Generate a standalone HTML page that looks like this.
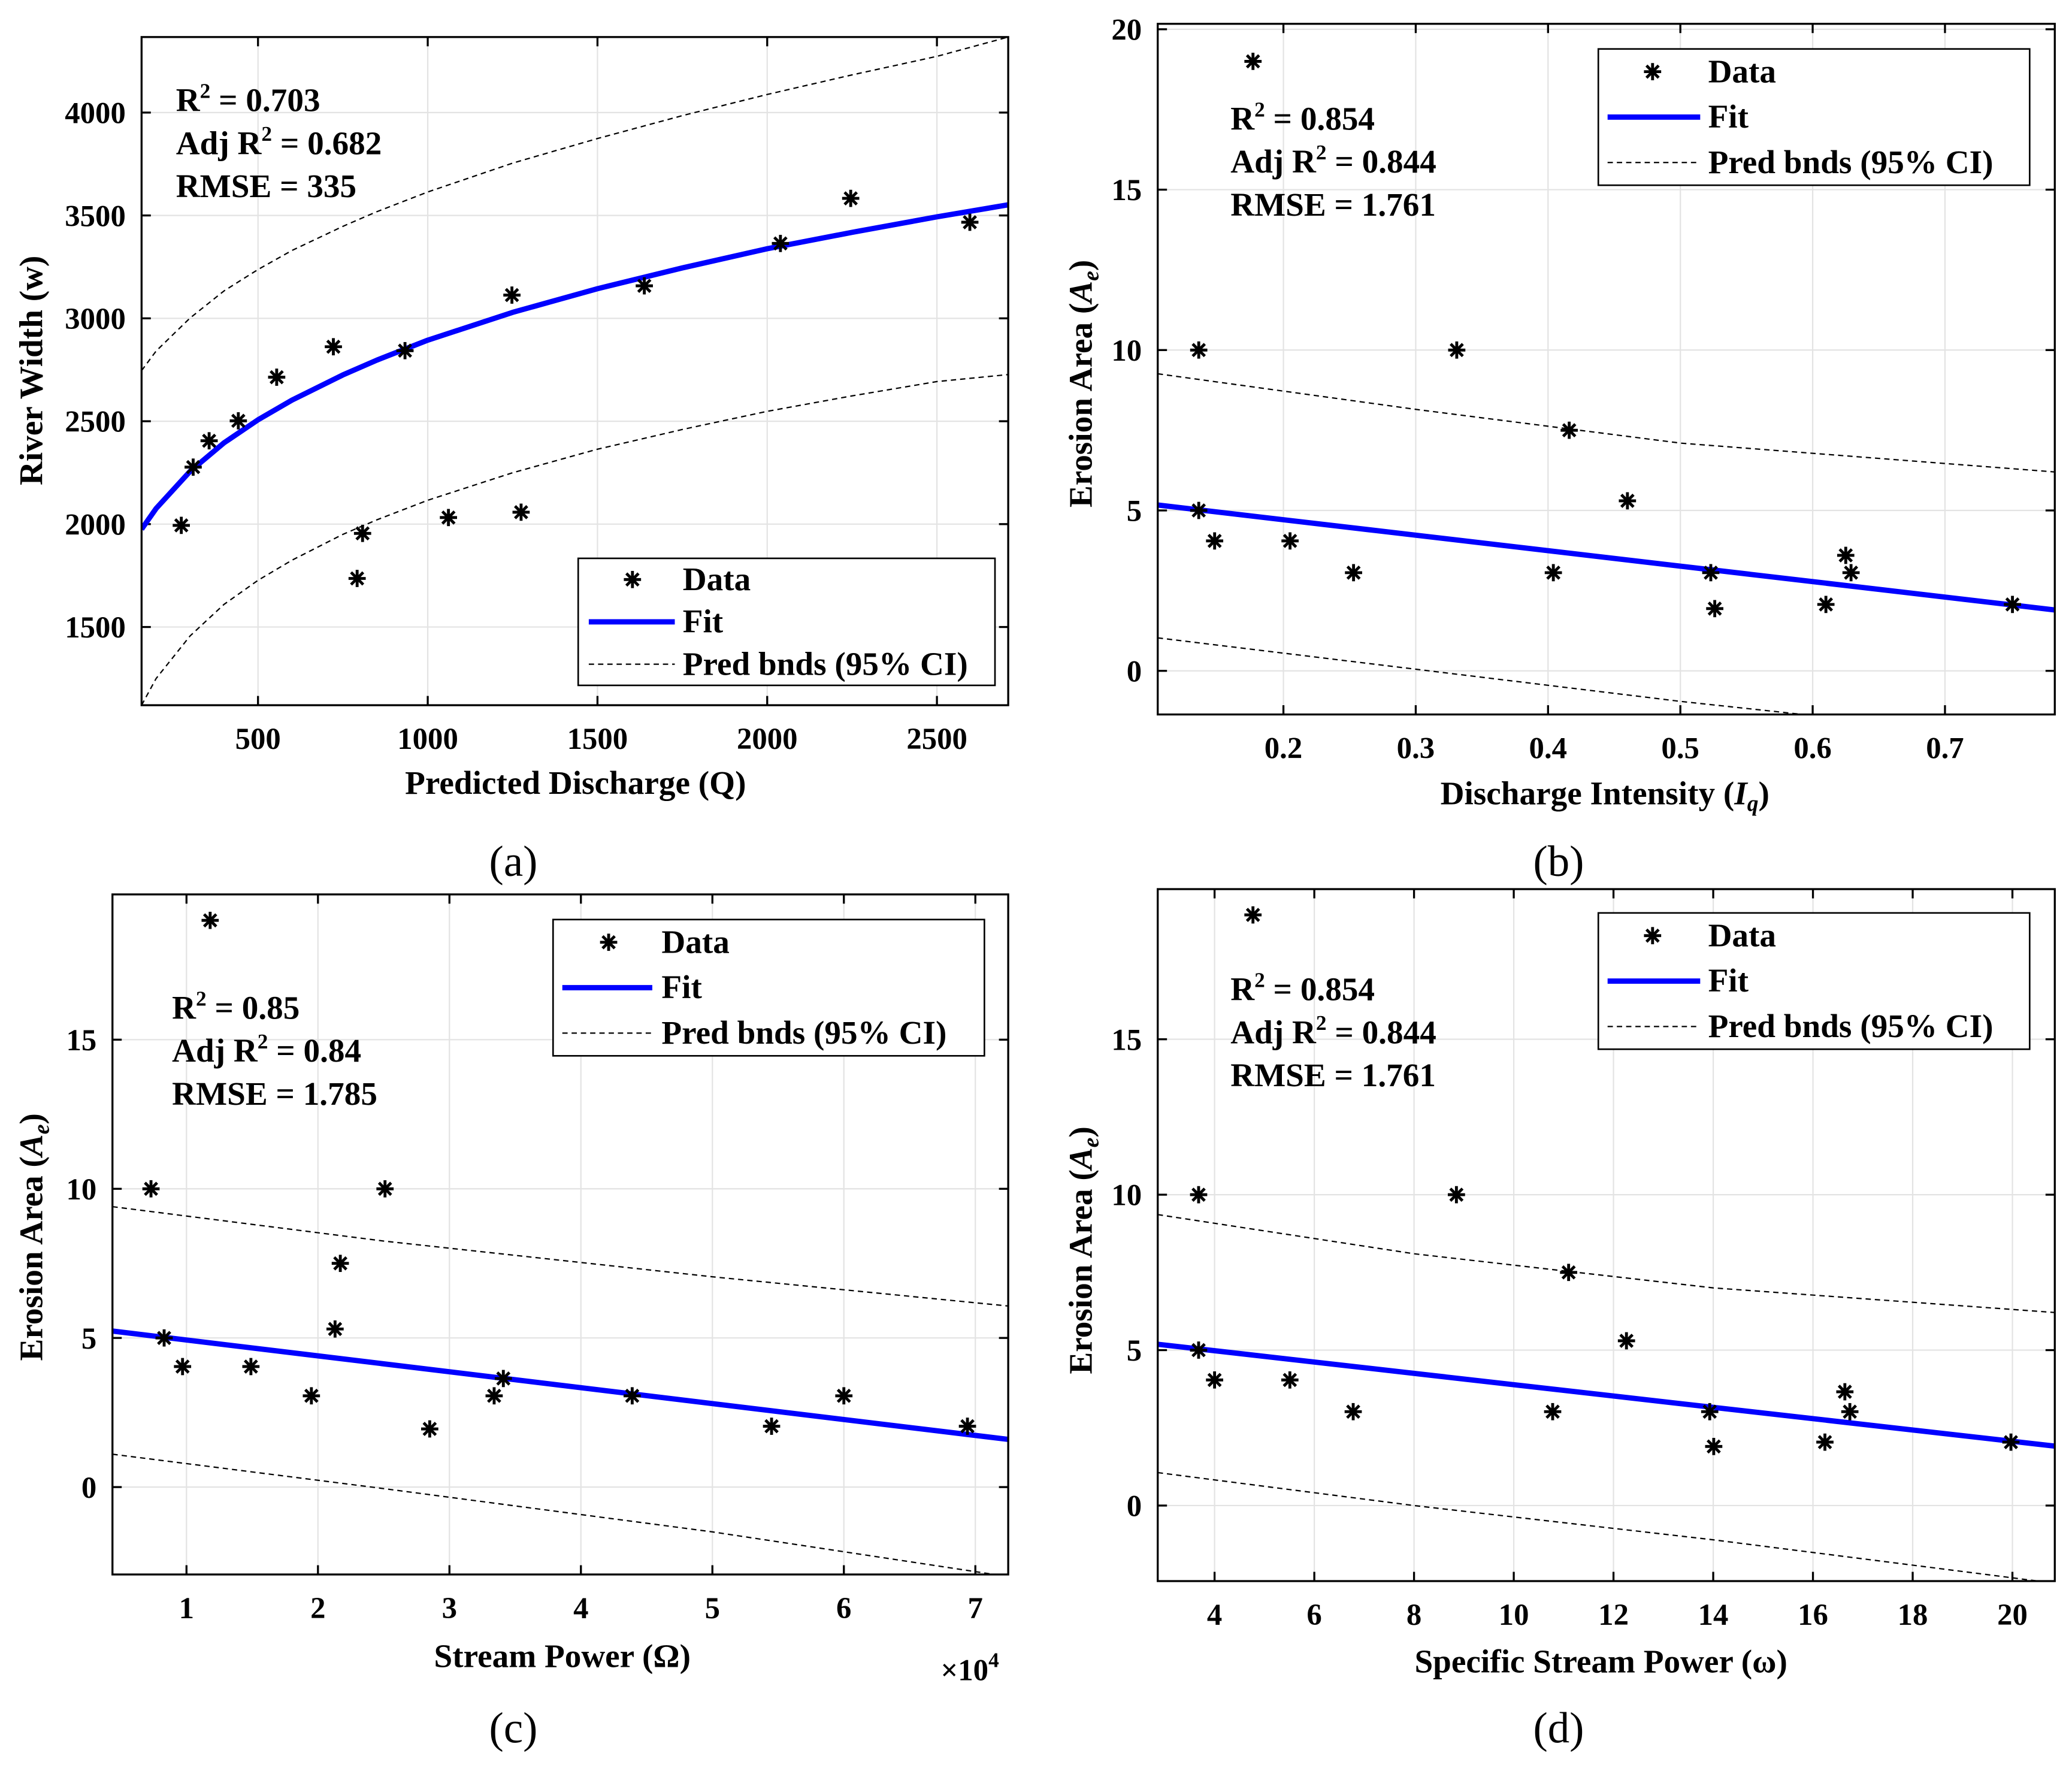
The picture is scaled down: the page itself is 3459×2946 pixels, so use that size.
<!DOCTYPE html>
<html><head><meta charset="utf-8"><style>
html,body{margin:0;padding:0;background:#fff}
svg{display:block}
text{font-family:"Liberation Serif",serif;fill:#000}
.tk{font-size:23px;font-weight:bold}
.st{font-size:25px;font-weight:bold}
.al{font-size:25px;font-weight:bold}
.lg{font-size:25px;font-weight:bold}
.pl{font-size:33px}
</style></head><body>
<svg id="fig" width="3459" height="2946" viewBox="0 0 1566 1334" preserveAspectRatio="none" xmlns="http://www.w3.org/2000/svg">
<g id="root"></g>
</svg>
<script>
// ---------- Panel (a) data ----------
const aX=[274,309,356,442,555,722,792,808,933,1061,1248,1275,1638,2039,2246,2597];
const aY=[1994,2277,2405,2502,2714,2862,1736,1955,2843,2032,3113,2058,3158,3364,3583,3467];
const aFitX=[157,200,300,400,500,600,750,850,1000,1250,1500,1750,2000,2250,2500,2710];
const aFitY=[1975,2076,2257,2395,2507,2603,2725,2797,2894,3029,3144,3245,3338,3418,3493,3552];
const aUp=[2746,2841,3002,3133,3237,3330,3447,3518,3614,3754,3874,3985,4088,4183,4273,4367];
const aLo=[1120,1250,1457,1610,1727,1825,1950,2021,2116,2250,2364,2460,2548,2623,2693,2727];
const aXT=[500,1000,1500,2000,2500];
const aYT=[1500,2000,2500,3000,3500,4000];
// ---------- Panel (b) data ----------
const bX=[0.136,0.136,0.148,0.177,0.205,0.253,0.331,0.404,0.416,0.46,0.523,0.526,0.61,0.625,0.629,0.751];
const bY=[10,5,4.05,19,4.05,3.06,10,3.06,7.5,5.3,3.06,1.94,2.07,3.6,3.06,2.07];
const bFitX=[0.105,0.783];
const bFitY=[5.17,1.9];
const bBX=[0.105,0.3,0.5,0.783];
const bUp=[9.26,8.15,7.1,6.2];
const bLo=[1.03,0.05,-0.95,-2.2];
const bXT=[0.2,0.3,0.4,0.5,0.6,0.7];
const bYT=[0,5,10,15,20];
// ---------- Panel (c) data ----------
const cX=[0.73,0.83,0.97,1.18,1.49,1.95,2.13,2.17,2.51,2.85,3.34,3.41,4.39,5.45,6.0,6.94];
const cY=[10,5,4.04,19,4.04,3.06,5.3,7.5,10,1.95,3.06,3.64,3.06,2.04,3.06,2.04];
const cFitX=[0.437,7.25];
const cFitY=[5.23,1.6];
const cBX=[0.437,2.5,5,7.25];
const cUp=[9.4,8.25,7.05,6.07];
const cLo=[1.1,-0.05,-1.5,-3.0];
const cXT=[1,2,3,4,5,6,7];
const cYT=[0,5,10,15];
// ---------- Panel (d) data ----------
const dX=[3.68,3.68,4,4.77,5.51,6.78,8.85,10.78,11.1,12.26,13.93,14.01,16.24,16.64,16.74,19.97];
const dY=[10,5,4.04,19,4.04,3.02,10,3.02,7.5,5.3,3.02,1.9,2.04,3.66,3.02,2.04];
const dFitX=[2.86,20.85];
const dFitY=[5.19,1.91];
const dBX=[2.86,8,14,20.85];
const dUp=[9.36,8.1,7.0,6.21];
const dLo=[1.06,0.0,-1.1,-2.5];
const dXT=[4,6,8,10,12,14,16,18,20];
const dYT=[0,5,10,15];

const NS="http://www.w3.org/2000/svg";
const root=document.getElementById('root');
function mk(tag,attrs,parent){const e=document.createElementNS(NS,tag);for(const k in attrs)e.setAttribute(k,attrs[k]);(parent||root).appendChild(e);return e;}

function panel(cfg){
  const g=mk('g',{});
  
  
  const {L,R,T,B,x0,x1,y0,y1}=cfg;
  const sx=v=>L+(v-x0)/(x1-x0)*(R-L);
  const sy=v=>B-(v-y0)/(y1-y0)*(B-T);
  const clipId='clip'+cfg.id;
  const cp=mk('clipPath',{id:clipId},g);mk('rect',{x:L,y:T,width:R-L,height:B-T},cp);
  cfg.xt.forEach(v=>{const l=mk('line',{x1:sx(v),x2:sx(v),y1:T,y2:B,stroke:'#e3e3e3','stroke-width':1},g);
    });
  cfg.yt.forEach(v=>{const l=mk('line',{y1:sy(v),y2:sy(v),x1:L,x2:R,stroke:'#e3e3e3','stroke-width':1},g);
    });
  cfg.xt.forEach(v=>{
    mk('line',{x1:sx(v),x2:sx(v),y1:B,y2:B-7,stroke:'#000','stroke-width':1.5},g);
    mk('line',{x1:sx(v),x2:sx(v),y1:T,y2:T+7,stroke:'#000','stroke-width':1.5},g);
    const t=mk('text',{x:sx(v),y:B+33,'text-anchor':'middle',class:'tk'},g);t.textContent=cfg.xf?cfg.xf(v):v;
    
  });
  cfg.yt.forEach(v=>{
    mk('line',{x1:L,x2:L+7,y1:sy(v),y2:sy(v),stroke:'#000','stroke-width':1.5},g);
    mk('line',{x1:R,x2:R-7,y1:sy(v),y2:sy(v),stroke:'#000','stroke-width':1.5},g);
    const t=mk('text',{x:L-12,y:sy(v)+8,'text-anchor':'end',class:'tk'},g);t.textContent=v;
    
  });
  const pg=mk('g',{'clip-path':'url(#'+clipId+')'},g);
  const pathOf=(xs,ys)=>xs.map((x,i)=>(i?'L':'M')+sx(x).toFixed(1)+','+sy(ys[i]).toFixed(1)).join(' ');
  const up=mk('path',{d:pathOf(cfg.bx,cfg.up),fill:'none',stroke:'#000','stroke-width':1,'stroke-dasharray':'4,3'},pg);
  
  const lo=mk('path',{d:pathOf(cfg.bx,cfg.lo),fill:'none',stroke:'#000','stroke-width':1,'stroke-dasharray':'4,3'},pg);
  
  const ft=mk('path',{d:pathOf(cfg.fx,cfg.fy),fill:'none',stroke:'#0000ff','stroke-width':4,'stroke-linejoin':'round'},pg);
  
  cfg.px.forEach((x,i)=>{
    const m=star(sx(x),sy(cfg.py[i]),pg);
    
    
  });
  const bx=mk('rect',{x:L,y:T,width:R-L,height:B-T,fill:'none',stroke:'#000','stroke-width':1.5},g);
  
  return g;
}
function star(cx,cy,parent){
  const s=mk('g',{stroke:'#000','stroke-width':2.2},parent);const r=6.5,d=4.6;
  mk('line',{x1:cx,x2:cx,y1:cy-r,y2:cy+r},s);
  mk('line',{x1:cx-r,x2:cx+r,y1:cy,y2:cy},s);
  mk('line',{x1:cx-d,x2:cx+d,y1:cy-d,y2:cy+d},s);
  mk('line',{x1:cx-d,x2:cx+d,y1:cy+d,y2:cy-d},s);
  return s;
}
function legend(id,x,y,w,h,mx,tx,lx1,lx2){
  const g=mk('g',{});
  
  
  mk('rect',{x:x,y:y,width:w,height:h,fill:'#fff',stroke:'#000','stroke-width':1.2},g);
  const step=h/3;
  const yc=i=>y+step*(i+0.5);
  const s=star(mx,yc(0),g);
  
  
  mk('line',{x1:lx1,x2:lx2,y1:yc(1),y2:yc(1),stroke:'#0000ff','stroke-width':4},g);
  mk('line',{x1:lx1,x2:lx2,y1:yc(2),y2:yc(2),stroke:'#000','stroke-width':1,'stroke-dasharray':'4,3'},g);
  ['Data','Fit','Pred bnds (95% CI)'].forEach((t,i)=>{
    const e=mk('text',{x:tx,y:yc(i)+8,class:'lg'},g);e.textContent=t;
    
  });
}
function stats(x,y,lines){
  lines.forEach((l,i)=>{
    const t=mk('text',{x:x,y:y+i*32.5,class:'st'});
    
    
    t.innerHTML=l;
  });
}
function txt(x,y,cls,html,name,rot){
  const t=mk('text',{x:x,y:y,class:cls,'text-anchor':'middle'});
  if(rot)t.setAttribute('transform','rotate(-90 '+x+' '+y+')');
  t.innerHTML=html;
  
  
}
const sup='<tspan dy="-10" font-size="16">2</tspan><tspan dy="10"> </tspan>';
const Ae='<tspan font-style="italic">A</tspan><tspan font-style="italic" font-size="17" dy="5">e</tspan><tspan dy="-5">)</tspan>';

panel({id:'a',L:107,R:762,T:28,B:533,x0:157,x1:2710,y0:1120,y1:4367,xt:aXT,yt:aYT,px:aX,py:aY,fx:aFitX,fy:aFitY,bx:aFitX,up:aUp,lo:aLo});
panel({id:'b',L:875,R:1553,T:18,B:540,x0:0.105,x1:0.783,y0:-1.36,y1:20.17,xt:bXT,yt:bYT,px:bX,py:bY,fx:bFitX,fy:bFitY,bx:bBX,up:bUp,lo:bLo,xf:v=>v.toFixed(1)});
panel({id:'c',L:85,R:762,T:676,B:1190,x0:0.437,x1:7.25,y0:-2.93,y1:19.87,xt:cXT,yt:cYT,px:cX,py:cY,fx:cFitX,fy:cFitY,bx:cBX,up:cUp,lo:cLo});
panel({id:'d',L:875,R:1553,T:672,B:1195,x0:2.86,x1:20.85,y0:-2.43,y1:19.83,xt:dXT,yt:dYT,px:dX,py:dY,fx:dFitX,fy:dFitY,bx:dBX,up:dUp,lo:dLo});

legend('a',437,422,315,96,478,516,445,510);
legend('b',1208,37,326,103,1249,1291,1215,1285);
legend('c',418,695,326,103,460,500,425,493);
legend('d',1208,690,326,103,1249,1291,1215,1285);

stats(133,84,['R'+sup+'= 0.703','Adj R'+sup+'= 0.682','RMSE = 335']);
stats(930,98,['R'+sup+'= 0.854','Adj R'+sup+'= 0.844','RMSE = 1.761']);
stats(130,770,['R'+sup+'= 0.85','Adj R'+sup+'= 0.84','RMSE = 1.785']);
stats(930,756,['R'+sup+'= 0.854','Adj R'+sup+'= 0.844','RMSE = 1.761']);

txt(435,600,'al','Predicted Discharge (Q)','x-axis-title-a');
txt(32,280,'al','River Width (w)','y-axis-title-a',true);
txt(1213,608,'al','Discharge Intensity  (<tspan font-style="italic">I</tspan><tspan font-style="italic" font-size="17" dy="5">q</tspan><tspan dy="-5">)</tspan>','x-axis-title-b');
txt(825,290,'al','Erosion Area (' + Ae,'y-axis-title-b',true);
txt(425,1260,'al','Stream Power  (Ω)','x-axis-title-c');
txt(32,935,'al','Erosion Area (' + Ae,'y-axis-title-c',true);
txt(1210,1264,'al','Specific Stream Power   (ω)','x-axis-title-d');
txt(825,945,'al','Erosion Area (' + Ae,'y-axis-title-d',true);
txt(733,1270,'tk','×10<tspan dy="-10" font-size="16">4</tspan>','x-axis-exponent-c');

txt(388,662,'pl','(a)','panel-label-a');
txt(1178,662,'pl','(b)','panel-label-b');
txt(388,1317,'pl','(c)','panel-label-c');
txt(1178,1317,'pl','(d)','panel-label-d');
</script>
</body></html>
